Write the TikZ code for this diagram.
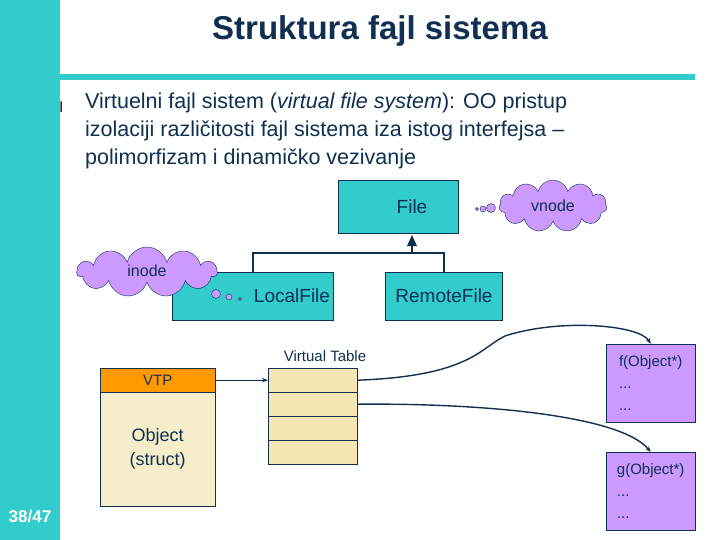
\documentclass[tikz,border=0pt]{standalone}
\usepackage{fontspec}
\setmainfont{Liberation Sans}
\usetikzlibrary{shapes.symbols,arrows.meta}
\definecolor{teal}{HTML}{33CCCC}
\definecolor{lilac}{HTML}{CC99FF}
\definecolor{navy}{HTML}{0F3050}
\definecolor{vtp}{HTML}{FF9900}
\definecolor{beige}{HTML}{F6EDCB}
\definecolor{rowc}{HTML}{F3E6B2}
\tikzset{
  cls/.style={draw=navy,fill=teal,text=navy,minimum width=117pt,minimum height=48pt,font=\fontsize{19}{22}\selectfont},
  think/.style={cloud,cloud puffs=11,cloud ignores aspect,draw=navy,fill=lilac,text=navy,inner sep=0pt,font=\fontsize{16}{18}\selectfont},
  bubble/.style={circle,draw=navy,fill=lilac,inner sep=0pt},
  fun/.style={draw=navy,fill=lilac,text=navy,minimum width=89pt,minimum height=78pt,font=\fontsize{15}{22}\selectfont,align=left,inner sep=3pt},
  ptr/.style={draw=navy,line width=1.4pt,-{Stealth[length=6pt]}}
}
\begin{document}
\begin{tikzpicture}[x=1pt,y=-1pt]
\useasboundingbox (0,0) rectangle (720,540);
\fill[teal] (0,0) rectangle (60,540);
\fill[teal] (60,74) rectangle (695,80);
\node[text=navy] (title) at (380,31) {\bfseries\fontsize{33}{36}\selectfont Struktura fajl sistema};
\node[anchor=west] (bul) at (56,107) {\fontsize{15}{15}\selectfont l};
\node[anchor=north west,align=left,inner sep=0pt,text=navy,font=\fontsize{21.5}{28}\selectfont] (txt) at (85,93)
  {Virtuelni fajl sistem (\textit{virtual file system}): OO pristup\\
   izolaciji različitosti fajl sistema iza istog interfejsa --\\
   polimorfizam i dinamičko vezivanje};
% class hierarchy
\node[cls,minimum width=120pt,minimum height=53pt] (file) at (398,207) {\hspace{28pt}File};
\node[cls] (local) at (253,296) {\hspace{78pt}LocalFile};
\node[cls] (remote) at (444,296) {RemoteFile};
\draw[navy,line width=1.4pt] (local.north) |- (412,253) -| (remote.north);
\draw[navy,line width=1.4pt] (412,253) -- (412,246);
\fill[navy] (407,246) -- (417,246) -- (412,235) -- cycle;
% clouds
\node[think,minimum width=108pt,minimum height=52pt] (vnode) at (553,206) {vnode};
\node[bubble,minimum size=9pt] (v1) at (491,208) {};
\node[bubble,minimum size=6pt] (v2) at (483,209) {};
\node[bubble,minimum size=3pt] (v3) at (477,209) {};
\node[think,minimum width=140pt,minimum height=50pt] (inode) at (147,272) {\raisebox{3pt}{inode}};
\node[bubble,minimum size=9pt] (i1) at (216,294) {};
\node[bubble,minimum size=6pt] (i2) at (229,297) {};
\node[bubble,minimum size=3pt] (i3) at (240,299) {};
% object and virtual table
\node[draw=navy,fill=vtp,text=navy,minimum width=115pt,minimum height=24pt,anchor=north west,inner sep=0pt,font=\fontsize{15}{17}\selectfont] (vtp) at (100,368) {VTP};
\node[draw=navy,fill=beige,text=navy,minimum width=115pt,minimum height=114pt,anchor=north west,align=center,font=\fontsize{18}{24}\selectfont] (obj) at (100,392) {Object\\(struct)};
\foreach \r in {0,...,3}
  \node[draw=navy,fill=rowc,minimum width=89pt,minimum height=24pt,anchor=north west,inner sep=0pt] (row\r) at (268,368+24*\r) {};
\node[text=navy,font=\fontsize{15}{17}\selectfont] (vt) at (325,356) {Virtual Table};
\node[fun,anchor=north west] (f) at (606,344) {f(Object*)\\...\\...};
\node[fun,anchor=north west] (g) at (606,452) {g(Object*)\\...\\...};
\draw[ptr] (vtp.east) -- (row0.west);
\draw[ptr] (row0.east) .. controls (470,376) and (480,348) .. (505,336) .. controls (560,318) and (640,325) .. (f.north);
\draw[ptr] (row1.east) .. controls (480,403) and (620,415) .. (g.north);
\node[text=white,font=\bfseries\fontsize{17}{19}\selectfont] (pg) at (30,517) {38/47};
\end{tikzpicture}
\end{document}
